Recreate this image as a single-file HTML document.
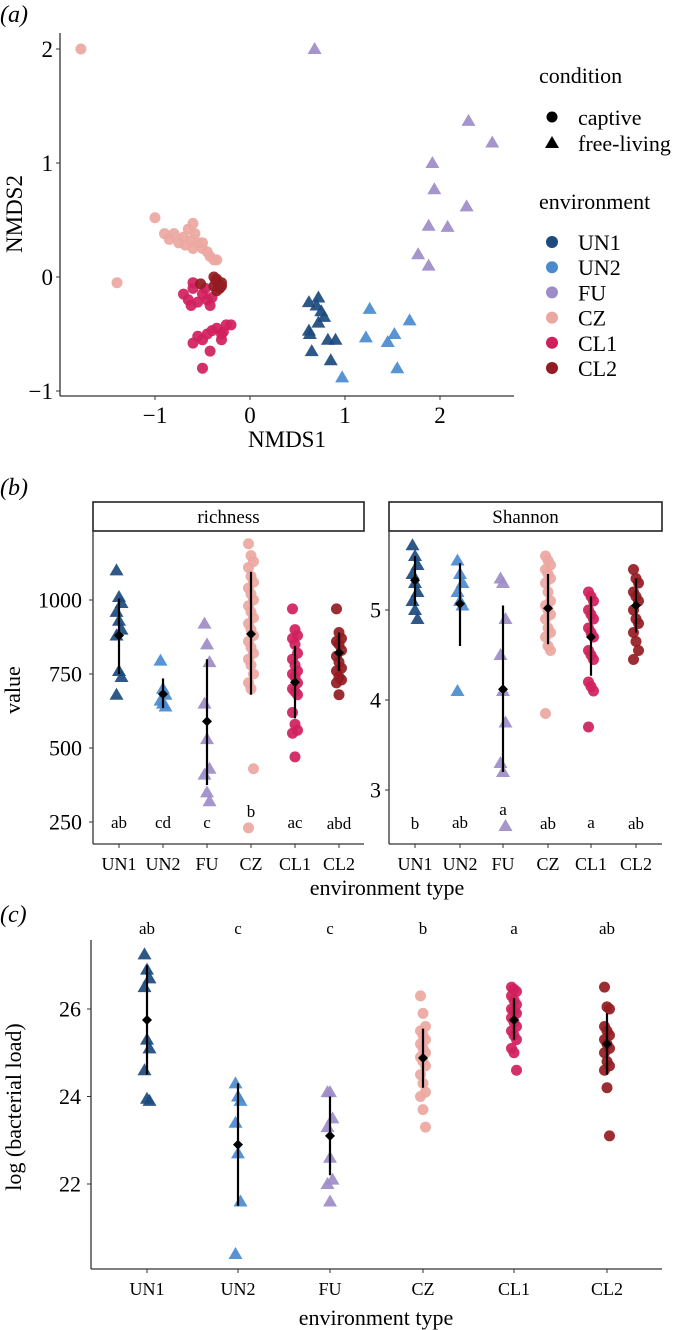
<!DOCTYPE html>
<html><head><meta charset="utf-8"><style>
html,body{margin:0;padding:0;background:#fff;}
svg{display:block;}
svg text{font-family:"Liberation Serif","DejaVu Serif",serif;}
</style></head><body>
<svg id="fig" width="681" height="1330" viewBox="0 0 681 1330" xmlns="http://www.w3.org/2000/svg" font-family="Liberation Serif, serif">
<text x="0" y="22" font-size="24" font-style="italic">(a)</text>
<text x="0" y="495" font-size="24" font-style="italic">(b)</text>
<text x="0" y="922" font-size="24" font-style="italic">(c)</text>
</svg>
<script>
const envs = ["UN1","UN2","FU","CZ","CL1","CL2"];
const colors = {UN1:"#1c4a7e",UN2:"#4a8bd0",FU:"#9d8cc8",CZ:"#eba7a1",CL1:"#d01f5e",CL2:"#941b22"};
const freeLiving = {UN1:true,UN2:true,FU:true,CZ:false,CL1:false,CL2:false};

// Panel a: NMDS
const nmdsCZx = [-1.78,-1.40,-1.0,-0.9,-0.85,-0.8,-0.75,-0.7,-0.65,-0.6,-0.58,-0.55,-0.5,-0.5,-0.45,-0.42,-0.38,-0.35,-0.6,-0.68,-0.62];
const nmdsCZy = [2.0,-0.05,0.52,0.38,0.33,0.38,0.3,0.35,0.42,0.47,0.38,0.3,0.25,0.3,0.22,0.18,0.15,0.15,0.25,0.28,0.32];
const nmdsCL1x = [-0.7,-0.65,-0.6,-0.6,-0.55,-0.5,-0.47,-0.45,-0.42,-0.4,-0.62,-0.6,-0.55,-0.5,-0.45,-0.4,-0.35,-0.3,-0.28,-0.25,-0.2,-0.42,-0.5,-0.3];
const nmdsCL1y = [-0.15,-0.2,-0.1,-0.05,-0.22,-0.15,-0.1,-0.2,-0.25,-0.18,-0.25,-0.58,-0.52,-0.55,-0.5,-0.47,-0.45,-0.55,-0.48,-0.42,-0.42,-0.65,-0.8,-0.5];
const nmdsCL2x = [-0.52,-0.38,-0.35,-0.33,-0.38,-0.3,-0.35,-0.32,-0.36,-0.3];
const nmdsCL2y = [-0.06,0.0,-0.02,-0.06,-0.08,-0.05,-0.12,-0.1,-0.03,-0.08];
const nmdsUN1x = [0.62,0.72,0.7,0.75,0.78,0.72,0.62,0.63,0.82,0.9,0.65,0.85];
const nmdsUN1y = [-0.22,-0.18,-0.25,-0.3,-0.35,-0.4,-0.47,-0.5,-0.55,-0.55,-0.65,-0.73];
const nmdsUN2x = [1.26,1.68,1.22,1.52,1.45,1.55,0.97];
const nmdsUN2y = [-0.28,-0.38,-0.53,-0.5,-0.57,-0.8,-0.88];
const nmdsFUx = [0.68,2.3,2.55,1.92,1.94,2.28,1.88,2.08,1.77,1.88];
const nmdsFUy = [2.0,1.37,1.18,1.0,0.77,0.62,0.45,0.44,0.2,0.1];
const nmdsTicksX = [-1,0,1,2];
const nmdsTicksY = [-1,0,1,2];

// Panel b: richness
const richUN1 = [1100,1010,990,960,930,900,880,760,740,680];
const richUN2 = [795,700,680,660,650,640];
const richFU = [920,850,790,650,530,430,410,350,320];
const richCZ = [1190,1150,1130,1110,1080,1060,1040,1020,1000,980,960,940,920,900,880,860,840,820,800,780,750,720,700,430,230];
const richCL1 = [970,900,880,870,850,820,800,780,760,750,740,720,700,690,680,620,580,560,550,470];
const richCL2 = [970,890,870,860,850,830,810,790,770,760,740,730,720,680];
const richMean = [880,682,590,885,722,822];
const richLo = [750,635,375,680,600,760];
const richHi = [1005,735,800,1095,845,890];
const richLetters = ["ab","cd","c","b","ac","abd"];
const richTicks = [250,500,750,1000];

// Panel b: Shannon
const shanUN1 = [5.72,5.6,5.5,5.4,5.3,5.2,5.1,5.0,4.9];
const shanUN2 = [5.55,5.4,5.3,5.2,5.1,5.05,4.1];
const shanFU = [5.35,5.3,4.9,4.5,4.1,3.75,3.3,3.2,2.6];
const shanCZ = [5.6,5.55,5.5,5.45,5.4,5.35,5.3,5.2,5.1,5.05,5.0,4.95,4.9,4.8,4.75,4.7,4.6,4.55,3.85];
const shanCL1 = [5.2,5.15,5.1,5.0,4.95,4.9,4.8,4.75,4.7,4.55,4.5,4.45,4.2,4.15,4.1,3.7];
const shanCL2 = [5.45,5.35,5.3,5.2,5.15,5.1,5.0,4.9,4.85,4.75,4.65,4.55,4.45];
const shanMean = [5.33,5.07,4.12,5.02,4.7,5.05];
const shanLo = [5.05,4.6,3.2,4.62,4.27,4.75];
const shanHi = [5.6,5.52,5.05,5.4,5.15,5.35];
const shanLetters = ["b","ab","a","ab","a","ab"];
const shanTicks = [3,4,5];

// Panel c: bacterial load
const loadUN1 = [27.25,26.9,26.7,26.5,25.3,25.1,24.6,23.95,23.9];
const loadUN2 = [24.3,24.0,23.9,23.4,22.7,21.6,20.4];
const loadFU = [24.1,24.1,23.5,23.3,22.6,22.1,22.0,21.6];
const loadCZ = [26.3,25.9,25.6,25.5,25.4,25.3,25.2,25.1,25.0,24.9,24.8,24.7,24.5,24.3,24.1,24.0,23.7,23.3];
const loadCL1 = [26.5,26.45,26.4,26.3,26.2,26.1,26.0,25.95,25.9,25.8,25.7,25.6,25.5,25.4,25.3,25.1,25.0,24.6];
const loadCL2 = [26.5,26.05,26.0,25.6,25.5,25.4,25.3,25.2,25.1,25.0,24.8,24.7,24.6,24.2,23.1];
const loadMean = [25.75,22.9,23.1,24.88,25.75,25.2];
const loadLo = [24.5,21.5,22.2,24.2,25.3,24.5];
const loadHi = [27.0,24.3,24.0,25.55,26.25,25.9];
const loadLetters = ["ab","c","c","b","a","ab"];
const loadTicks = [22,24,26];

const NS="http://www.w3.org/2000/svg";
const svg=document.getElementById("fig");
function mk(tag,attrs,parent,txt){const e=document.createElementNS(NS,tag);for(const k in attrs)e.setAttribute(k,attrs[k]);if(tag==="text")e.setAttribute("font-family","Liberation Serif, serif");if(txt!==undefined)e.textContent=txt;(parent||svg).appendChild(e);return e;}
function marker(g,env,cx,cy,name){
  let e;
  if(freeLiving[env]){
    e=mk("polygon",{points:`${cx},${cy-7} ${cx-7},${cy+5} ${cx+7},${cy+5}`,fill:colors[env],"fill-opacity":0.92},g);
  } else {
    e=mk("circle",{cx:cx,cy:cy,r:5.5,fill:colors[env],"fill-opacity":0.92},g);
  }
  
  
}

// ---- Panel a ----
const ax=v=>250+v*95, ay=v=>277-v*114;
let ga=mk("g",{});


let l=mk("line",{x1:60,y1:33,x2:60,y2:396,stroke:"#333","stroke-width":1.3},ga);


l=mk("line",{x1:60,y1:396,x2:514,y2:396,stroke:"#333","stroke-width":1.3},ga);


nmdsTicksX.forEach(v=>{mk("line",{x1:ax(v),y1:396,x2:ax(v),y2:400,stroke:"#333"},ga);
  const t=mk("text",{x:ax(v),y:423,"font-size":23,"text-anchor":"middle"},ga,v<0?"\u2212"+(-v):String(v));
  
  });
nmdsTicksY.forEach(v=>{mk("line",{x1:56,y1:ay(v),x2:60,y2:ay(v),stroke:"#333"},ga);
  const t=mk("text",{x:53,y:ay(v)+8,"font-size":23,"text-anchor":"end"},ga,v<0?"\u2212"+(-v):String(v));
  
  });
let tt=mk("text",{x:287,y:447,"font-size":23,"text-anchor":"middle"},ga,"NMDS1");


tt=mk("text",{x:0,y:0,"font-size":23,"text-anchor":"middle",transform:"translate(22,214) rotate(-90)"},ga,"NMDS2");


const nmds={CZ:[nmdsCZx,nmdsCZy],CL1:[nmdsCL1x,nmdsCL1y],CL2:[nmdsCL2x,nmdsCL2y],UN1:[nmdsUN1x,nmdsUN1y],UN2:[nmdsUN2x,nmdsUN2y],FU:[nmdsFUx,nmdsFUy]};
for(const env in nmds){const [xs,ys]=nmds[env];xs.forEach((x,i)=>marker(ga,env,ax(x),ay(ys[i]),"nmds-point-"+env.toLowerCase()));}
// legend
let lg=mk("g",{});


tt=mk("text",{x:539,y:83,"font-size":22},lg,"condition");


let c=mk("circle",{cx:552,cy:117,r:5.5,fill:"#000"},lg);


tt=mk("text",{x:578,y:125,"font-size":22},lg,"captive");


c=mk("polygon",{points:"552,136 545,148 559,148",fill:"#000"},lg);


tt=mk("text",{x:578,y:151,"font-size":22},lg,"free-living");


tt=mk("text",{x:539,y:209,"font-size":22},lg,"environment");


envs.forEach((e,i)=>{const y=242+i*25.2;
  const k=mk("circle",{cx:552,cy:y,r:6,fill:colors[e]},lg);
  
  
  const t=mk("text",{x:578,y:y+8,"font-size":22},lg,e);
  
  });

// ---- strip plot helper ----
function stripPanel(opts){
  const g=mk("g",{});
  
  
  const {x0,x1,yTop,yBot,cats,yf,series,mean,lo,hi,letters,letterY,ticks,tickX,tickFont,catY,catFont}=opts;
  let a=mk("line",{x1:x0,y1:yTop,x2:x0,y2:yBot,stroke:"#333","stroke-width":1.3},g);
  
  
  a=mk("line",{x1:x0,y1:yBot,x2:x1,y2:yBot,stroke:"#333","stroke-width":1.3},g);
  
  
  ticks.forEach(v=>{mk("line",{x1:x0-4,y1:yf(v),x2:x0,y2:yf(v),stroke:"#333"},g);
    const t=mk("text",{x:tickX,y:yf(v)+tickFont*0.35,"font-size":tickFont,"text-anchor":"end"},g,String(v));
    
    });
  envs.forEach((e,i)=>{const cx=cats[i];
    mk("line",{x1:cx,y1:yBot,x2:cx,y2:yBot+4,stroke:"#333"},g);
    const t=mk("text",{x:cx,y:catY,"font-size":catFont,"text-anchor":"middle"},g,e);
    
    
    series[i].forEach((v,j)=>marker(g,e,cx+((j%3)-1)*2.5,yf(v),opts.name+"-point-"+e.toLowerCase()));
    const eb=mk("line",{x1:cx,y1:yf(lo[i]),x2:cx,y2:yf(hi[i]),stroke:"#000","stroke-width":2.2},g);
    
    
    const m=yf(mean[i]);
    const d=mk("polygon",{points:`${cx},${m-5} ${cx+5},${m} ${cx},${m+5} ${cx-5},${m}`,fill:"#000"},g);
    
    
    const ly=Array.isArray(letterY)?letterY[i]:letterY;
    const lt=mk("text",{x:cx,y:ly,"font-size":17,"text-anchor":"middle"},g,letters[i]);
    
    
  });
  return g;
}
function strip(x0,x1,label,name){
  const r=mk("rect",{x:x0,y:502,width:x1-x0,height:29,fill:"#fff",stroke:"#222","stroke-width":1.6});
  
  
  const t=mk("text",{x:(x0+x1)/2,y:523,"font-size":19,"text-anchor":"middle"},svg,label);
  
  
}
strip(93,364,"richness","richness");
strip(389,662,"Shannon","shannon");
stripPanel({name:"richness",x0:93,x1:364,yTop:531,yBot:844,cats:[119,163,207,251,295,339],
  yf:v=>600+(1000-v)*0.296,series:[richUN1,richUN2,richFU,richCZ,richCL1,richCL2],
  mean:richMean,lo:richLo,hi:richHi,letters:richLetters,letterY:[828,828,828,817,828,829],
  ticks:richTicks,tickX:82,tickFont:22,catY:870,catFont:18});
stripPanel({name:"shannon",x0:389,x1:662,yTop:531,yBot:844,cats:[415,460,503,548,591,636],
  yf:v=>610+(5-v)*90,series:[shanUN1,shanUN2,shanFU,shanCZ,shanCL1,shanCL2],
  mean:shanMean,lo:shanLo,hi:shanHi,letters:shanLetters,letterY:[829,828,815,829,828,829],
  ticks:shanTicks,tickX:381,tickFont:22,catY:870,catFont:18});
tt=mk("text",{x:387,y:895,"font-size":22,"text-anchor":"middle"},svg,"environment type");


tt=mk("text",{x:0,y:0,"font-size":22,"text-anchor":"middle",transform:"translate(20,690) rotate(-90)"},svg,"value");



stripPanel({name:"bacterial-load",x0:91,x1:662,yTop:940,yBot:1269,cats:[147,238,330,423,514,607],
  yf:v=>1009+(26-v)*43.75,series:[loadUN1,loadUN2,loadFU,loadCZ,loadCL1,loadCL2],
  mean:loadMean,lo:loadLo,hi:loadHi,letters:loadLetters,letterY:934,
  ticks:loadTicks,tickX:81,tickFont:22,catY:1295,catFont:18});
tt=mk("text",{x:376,y:1325,"font-size":22,"text-anchor":"middle"},svg,"environment type");


tt=mk("text",{x:0,y:0,"font-size":22,"text-anchor":"middle",transform:"translate(21,1107) rotate(-90)"},svg,"log (bacterial load)");


</script>
</body></html>
